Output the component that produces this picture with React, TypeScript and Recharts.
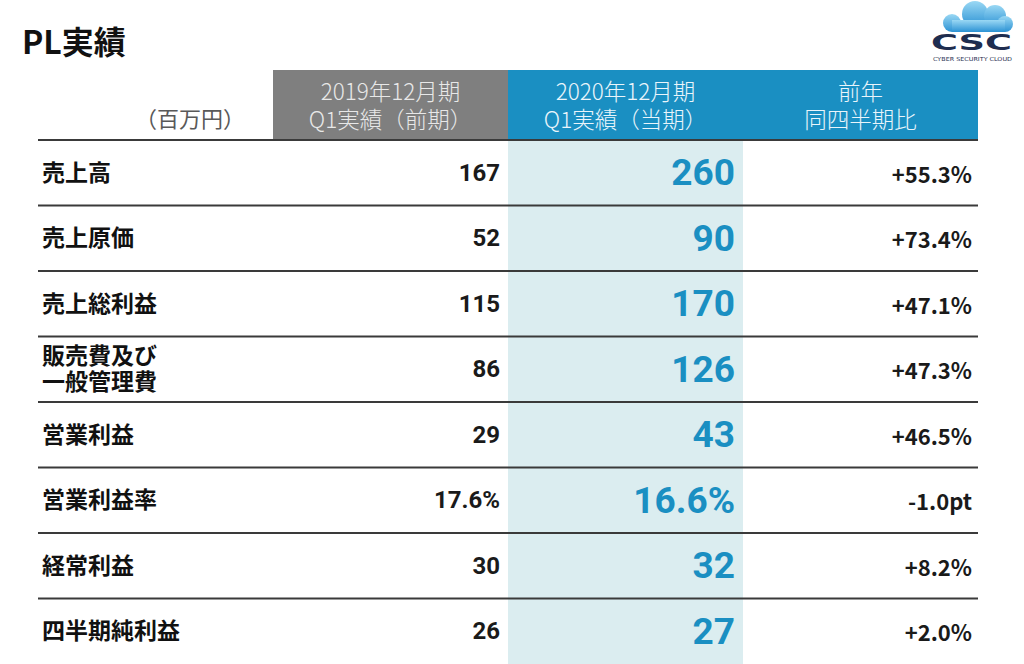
import React from 'react';
import {
  ScatterChart,
  Scatter,
  XAxis,
  YAxis,
  ReferenceArea,
  ReferenceLine,
} from 'recharts';

const rowLabels = [
  '売上高',
  '売上原価',
  '売上総利益',
  '販売費及び\n一般管理費',
  '営業利益',
  '営業利益率',
  '経常利益',
  '四半期純利益',
];
const rowUnits = ['', '', '', '', '', '%', '', ''];
const prevValues = [167, 52, 115, 86, 29, 17.6, 30, 26];
const currValues = [260, 90, 170, 126, 43, 16.6, 32, 27];
const yoyValues = [55.3, 73.4, 47.1, 47.3, 46.5, -1.0, 8.2, 2.0];
const yoyUnits = ['%', '%', '%', '%', '%', 'pt', '%', '%'];
const headerLabels = [
  '（百万円）',
  '2019年12月期\nQ1実績（前期）',
  '2020年12月期\nQ1実績（当期）',
  '前年\n同四半期比',
];

const JP = '"Noto Sans CJK JP", "Noto Sans", sans-serif';
const NUM = 'Roboto, "Noto Sans CJK JP", sans-serif';
const GRAY = '#7f7f7f';
const BLUE = '#1a8fc2';
const PALE = '#dbedf0';
const HEADER_TOP = -1.07;

const fmtValue = (v: number, unit: string) =>
  unit === '%' ? `${v.toFixed(1)}%` : String(v);
const fmtYoy = (v: number, unit: string) =>
  `${v >= 0 ? '+' : '-'}${Math.abs(v).toFixed(1)}${unit}`;

const labelData = rowLabels.map((t, i) => ({ x: 0, y: i + 0.5, text: t }));
const prevData = prevValues.map((v, i) => ({
  x: 2,
  y: i + 0.5,
  text: fmtValue(v, rowUnits[i]),
}));
const currData = currValues.map((v, i) => ({
  x: 3,
  y: i + 0.5,
  text: fmtValue(v, rowUnits[i]),
}));
const yoyData = yoyValues.map((v, i) => ({
  x: 4,
  y: i + 0.5,
  text: fmtYoy(v, yoyUnits[i]),
}));
const headerData = headerLabels.map((t, i) => ({
  x: i === 0 ? 1 : i + 0.5,
  y: HEADER_TOP / 2,
  text: t,
  idx: i,
}));

// each line of a cell is its own <text>, so two-line cells stay readable
function RowLabel(props: any) {
  const { cx, cy, payload } = props;
  const lines: string[] = payload.text.split('\n');
  const lh = 26;
  const y0 = cy - 2 - ((lines.length - 1) * lh) / 2;
  return (
    <g>
      {lines.map((l, i) => (
        <text
          key={i}
          x={cx + 4}
          y={y0 + i * lh}
          dominantBaseline="central"
          fontFamily={JP}
          fontWeight={700}
          fontSize={23}
          fill="#111"
        >
          {l}
        </text>
      ))}
    </g>
  );
}

function makeValue(font: string, size: number, color: string, pad: number) {
  return function ValueText(props: any) {
    const { cx, cy, payload } = props;
    return (
      <text
        x={cx - pad}
        y={cy}
        textAnchor="end"
        dominantBaseline="central"
        fontFamily={font}
        fontWeight={700}
        fontSize={size}
        fill={color}
      >
        {payload.text}
      </text>
    );
  };
}

function HeaderText(props: any) {
  const { cx, cy, payload } = props;
  const lines: string[] = payload.text.split('\n');
  if (payload.idx === 0) {
    return (
      <text
        x={cx - 28}
        y={cy + 12}
        textAnchor="end"
        dominantBaseline="central"
        fontFamily={JP}
        fontSize={22}
        fill="#595959"
      >
        {payload.text}
      </text>
    );
  }
  const lh = 28;
  const y0 = cy - 1 - ((lines.length - 1) * lh) / 2;
  return (
    <g>
      {lines.map((l, i) => (
        <text
          key={i}
          x={cx}
          y={y0 + i * lh}
          textAnchor="middle"
          dominantBaseline="central"
          fontFamily={JP}
          fontWeight={300}
          fontSize={22.5}
          fill={payload.idx === 1 ? '#e8e8e8' : '#eaf5fb'}
        >
          {l}
        </text>
      ))}
    </g>
  );
}

function Logo() {
  return (
    <svg width={100} height={68} style={{ position: 'absolute', left: 922, top: 0 }}>
      <defs>
        <linearGradient id="cloudGrad" x1="0" y1="0" x2="0" y2="1">
          <stop offset="0%" stopColor="#9ad8f4" />
          <stop offset="100%" stopColor="#2b92d4" />
        </linearGradient>
      </defs>
      <g fill="url(#cloudGrad)">
        <circle cx={30} cy={23} r={9} />
        <circle cx={53} cy={14} r={13} />
        <circle cx={73} cy={16} r={11} />
        <circle cx={83} cy={24} r={8} />
        <rect x={30} y={20} width={53} height={12} />
      </g>
      <text
        x={9}
        y={50}
        fontFamily='"DejaVu Sans", sans-serif'
        fontWeight={700}
        fontSize={21}
        fill="#1e2d4f"
        textLength={81}
        lengthAdjust="spacingAndGlyphs"
      >
        CSC
      </text>
      <text
        x={11}
        y={61}
        fontFamily='"DejaVu Sans", sans-serif'
        fontSize={5.5}
        fill="#1e2d4f"
        textLength={79}
        lengthAdjust="spacingAndGlyphs"
      >
        CYBER SECURITY CLOUD
      </text>
    </svg>
  );
}

export default function App() {
  return (
    <div
      style={{
        position: 'absolute',
        left: 0,
        top: 0,
        width: 1024,
        height: 664,
        background: '#fff',
        overflow: 'hidden',
      }}
    >
      <div
        style={{
          position: 'absolute',
          left: 22,
          top: 18,
          fontFamily: JP,
          fontWeight: 700,
          fontSize: 32,
          lineHeight: '44px',
          color: '#111',
        }}
      >
        PL実績
      </div>
      <Logo />
      <div style={{ position: 'absolute', left: 0, top: 0 }}>
        <ScatterChart
          width={1024}
          height={664}
          margin={{ top: 70, right: 46, bottom: 0, left: 38 }}
        >
          <XAxis type="number" dataKey="x" domain={[0, 4]} hide />
          <YAxis type="number" dataKey="y" domain={[HEADER_TOP, 8]} reversed hide />
          <ReferenceArea x1={1} x2={2} y1={HEADER_TOP} y2={0} fill={GRAY} fillOpacity={1} stroke="none" />
          <ReferenceArea x1={2} x2={4} y1={HEADER_TOP} y2={0} fill={BLUE} fillOpacity={1} stroke="none" />
          <ReferenceArea x1={2} x2={3} y1={0} y2={8} fill={PALE} fillOpacity={1} stroke="none" />
          {[0, 1, 2, 3, 4, 5, 6, 7].map((r) => (
            <ReferenceLine key={r} y={r} stroke="#3a3a3a" strokeWidth={2} />
          ))}
          <Scatter data={headerData} shape={HeaderText} isAnimationActive={false} />
          <Scatter data={labelData} shape={RowLabel} isAnimationActive={false} />
          <Scatter data={prevData} shape={makeValue(NUM, 24, '#1a1a1a', 8)} isAnimationActive={false} />
          <Scatter data={currData} shape={makeValue(NUM, 37, BLUE, 8)} isAnimationActive={false} />
          <Scatter data={yoyData} shape={makeValue(JP, 22, '#1a1a1a', 6)} isAnimationActive={false} />
        </ScatterChart>
      </div>
    </div>
  );
}
